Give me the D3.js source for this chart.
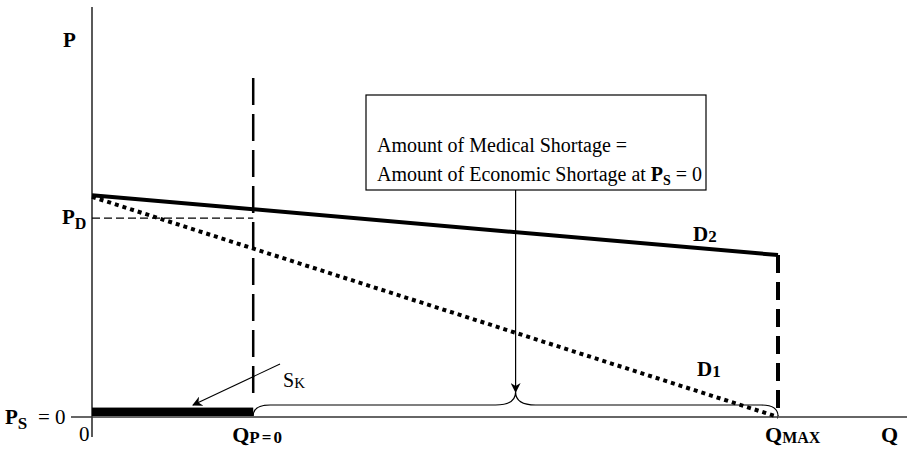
<!DOCTYPE html>
<html>
<head>
<meta charset="utf-8">
<script src="https://cdn.jsdelivr.net/npm/d3@7"></script>
<style>
  body { margin: 0; background: #fff; }
  text { font-family: "Liberation Serif", "DejaVu Serif", serif; fill: #000; }
</style>
</head>
<body>
<div id="chart"></div>
<script>
// quantities (Q from 0 to Qmax = 100) and prices (0..100)
var qKeys = ["Q0", "QP0", "QMAX", "QEND"];
var qVals = [0, 23.5, 100, 118.5];
var d2Line = [[0, 54.1], [100, 39.5]];   // D2 demand
var d1Line = [[0, 53.7], [100, 0]];      // D1 demand
var pD = 48.5;
var dashTop = 82.7;
var pTop = 100;
var skBar = 2.3;   // thickness of S_K bar in price units

var w = 907, h = 450;

var svg = d3.select("#chart").append("svg")
    .attr("width", w).attr("height", h);

var x = d3.scaleLinear().domain([0, 100]).range([92, 778]);
var y = d3.scaleLinear().domain([0, 100]).range([417, 7]);

var defs = svg.append("defs");
defs.append("marker")
    .attr("id", "arr")
    .attr("viewBox", "0 0 10 10")
    .attr("refX", 9).attr("refY", 5)
    .attr("markerWidth", 10).attr("markerHeight", 10)
    .attr("markerUnits", "userSpaceOnUse")
    .attr("orient", "auto")
  .append("path")
    .attr("d", "M0,0 L10,5 L0,10 L3,5 z")
    .attr("fill", "#000");

// axes
svg.append("line")
    .attr("x1", x(0)).attr("x2", x(0))
    .attr("y1", y(pTop)).attr("y2", 437)
    .attr("stroke", "#000").attr("stroke-width", 1.3);
svg.append("line")
    .attr("x1", 71).attr("x2", x(qVals[3]) + 30)
    .attr("y1", y(0)).attr("y2", y(0))
    .attr("stroke", "#333").attr("stroke-width", 1.3);

// S_K bar
svg.append("rect")
    .attr("x", x(0)).attr("y", y(skBar))
    .attr("width", x(qVals[1]) - x(0))
    .attr("height", y(0) - y(skBar) - 1)
    .attr("fill", "#000");

// P_D dashed
svg.append("line")
    .attr("x1", x(0)).attr("x2", x(qVals[1]))
    .attr("y1", y(pD)).attr("y2", y(pD))
    .attr("stroke", "#000").attr("stroke-width", 1.2)
    .attr("stroke-dasharray", "8,4");

// vertical dashed at Q P=0
svg.append("line")
    .attr("x1", x(qVals[1])).attr("x2", x(qVals[1]))
    .attr("y1", y(dashTop)).attr("y2", y(0) - 23)
    .attr("stroke", "#000").attr("stroke-width", 2.5)
    .attr("stroke-dasharray", "27,9");

var line = d3.line().x(function(d) { return x(d[0]); }).y(function(d) { return y(d[1]); });

// D1 dotted
svg.append("path")
    .attr("d", line(d1Line))
    .attr("fill", "none").attr("stroke", "#000")
    .attr("stroke-width", 4).attr("stroke-dasharray", "4,4");

// D2 solid
svg.append("path")
    .attr("d", line(d2Line))
    .attr("fill", "none").attr("stroke", "#000")
    .attr("stroke-width", 4);

// vertical dashed at QMAX
svg.append("line")
    .attr("x1", x(100)).attr("x2", x(100))
    .attr("y1", y(d2Line[1][1])).attr("y2", y(0) - 2)
    .attr("stroke", "#000").attr("stroke-width", 4)
    .attr("stroke-dasharray", "18,9");

// brace
var bx0 = x(qVals[1]), bx1 = x(100), bm = (bx0 + bx1) / 2;
var by = y(0) - 1, bf = y(0) - 12, bt = y(0) - 25;
var brace = "M" + bx0 + "," + by +
  " Q" + bx0 + "," + bf + " " + (bx0 + 17) + "," + bf +
  " L" + (bm - 20) + "," + bf +
  " Q" + bm + "," + bf + " " + bm + "," + bt +
  " Q" + bm + "," + bf + " " + (bm + 20) + "," + bf +
  " L" + (bx1 - 17) + "," + bf +
  " Q" + bx1 + "," + bf + " " + bx1 + "," + by;
svg.append("path").attr("d", brace)
    .attr("fill", "none").attr("stroke", "#000").attr("stroke-width", 1.2);

// box + arrow
var boxX = 366, boxY = 95, boxW = 340, boxH = 95;
svg.append("rect")
    .attr("x", boxX).attr("y", boxY).attr("width", boxW).attr("height", boxH)
    .attr("fill", "#fff").attr("stroke", "#000").attr("stroke-width", 1.2);
svg.append("line")
    .attr("x1", bm).attr("x2", bm)
    .attr("y1", boxY + boxH).attr("y2", bt)
    .attr("stroke", "#000").attr("stroke-width", 1.2)
    .attr("marker-end", "url(#arr)");

svg.append("text").attr("x", boxX + 11).attr("y", 152)
    .style("font-size", "20px").text("Amount of Medical Shortage =");
var t2 = svg.append("text").attr("x", boxX + 11).attr("y", 181).style("font-size", "20px");
t2.append("tspan").text("Amount of Economic Shortage at ");
t2.append("tspan").style("font-weight", "bold").text("P");
t2.append("tspan").style("font-weight", "bold").style("font-size", "14px").attr("dy", 4).text("S");
t2.append("tspan").attr("dy", -4).text(" = 0");

// S_K arrow
svg.append("line")
    .attr("x1", 280).attr("y1", 364).attr("x2", 193).attr("y2", 405)
    .attr("stroke", "#000").attr("stroke-width", 1.1)
    .attr("marker-end", "url(#arr)");
var sk = svg.append("text").attr("x", 283).attr("y", 387).style("font-size", "20px");
sk.append("tspan").text("S");
sk.append("tspan").style("font-size", "15px").attr("dy", 1).text("K");

// labels
svg.append("text").attr("x", 63).attr("y", 47)
    .style("font-size", "21px").style("font-weight", "bold").text("P");

var pdl = svg.append("text").attr("x", 62).attr("y", y(pD) + 6)
    .style("font-size", "21px").style("font-weight", "bold");
pdl.append("tspan").text("P");
pdl.append("tspan").style("font-size", "16px").attr("dy", 5).text("D");

var psl = svg.append("text").attr("x", 5).attr("y", y(0) + 7)
    .style("font-size", "21px");
psl.append("tspan").style("font-weight", "bold").text("P");
psl.append("tspan").style("font-weight", "bold").style("font-size", "17px").attr("dy", 5).text("S");
psl.append("tspan").attr("x", 38).attr("dy", -5).text("= 0");

svg.append("text").attr("x", 79).attr("y", 441)
    .style("font-size", "21px").text("0");

var qp = svg.append("text").attr("x", x(qVals[1]) - 21).attr("y", 442)
    .style("font-size", "22px").style("font-weight", "bold");
qp.append("tspan").text("Q");
qp.append("tspan").style("font-size", "17px").style("letter-spacing", "2px").attr("dy", 1).text("P=0");

var qm = svg.append("text").attr("x", x(100) - 13).attr("y", 442)
    .style("font-size", "22px").style("font-weight", "bold");
qm.append("tspan").text("Q");
qm.append("tspan").style("font-size", "16px").attr("dy", 1).text("MAX");

svg.append("text").attr("x", 881).attr("y", 442)
    .style("font-size", "22px").style("font-weight", "bold").text("Q");

var d2l = svg.append("text").attr("x", 693).attr("y", 241)
    .style("font-size", "21px").style("font-weight", "bold");
d2l.append("tspan").text("D");
d2l.append("tspan").style("font-size", "17px").attr("dy", 1).text("2");

var d1l = svg.append("text").attr("x", 697).attr("y", 376)
    .style("font-size", "21px").style("font-weight", "bold");
d1l.append("tspan").text("D");
d1l.append("tspan").style("font-size", "17px").attr("dy", 1).text("1");
</script>
</body>
</html>
